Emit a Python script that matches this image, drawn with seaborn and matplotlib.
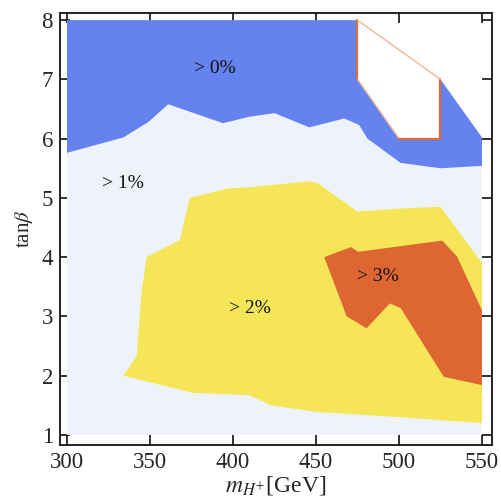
import matplotlib
matplotlib.use("Agg")
import matplotlib.pyplot as plt
import seaborn as sns

# Contour boundaries in (m_H+ [GeV], tan beta)
blue_lower_x = [300, 334, 349, 361, 394, 410, 425, 446, 467, 476, 481, 501, 525, 550]
blue_lower_y = [5.76, 6.02, 6.28, 6.58, 6.26, 6.37, 6.43, 6.19, 6.34, 6.23, 6.0, 5.59, 5.5, 5.54]

# excluded region (no data) in the upper right corner
hole_x = [475, 475, 500, 525, 525]
hole_y = [8.0, 7.0, 6.0, 6.0, 7.0]
edge_x = [550, 550]
edge_y = [6.02, 8.0]

yellow_x = [334, 342, 345, 348, 368, 374, 397, 410, 446, 451, 475, 500, 525, 550,
            550, 500, 450, 423, 410, 376]
yellow_y = [2.0, 2.33, 3.42, 4.0, 4.29, 5.0, 5.16, 5.18, 5.28, 5.25, 4.77, 4.82, 4.85, 3.9,
            1.2, 1.3, 1.39, 1.5, 1.67, 1.71]

orange_x = [455, 471, 475.5, 526, 535, 550, 550, 527, 501, 494.5, 480.5, 468.5]
orange_y = [4.0, 4.17, 4.09, 4.28, 4.01, 3.1, 1.84, 1.98, 3.14, 3.22, 2.8, 3.0]

region_labels = ["> 0%", "> 1%", "> 2%", "> 3%"]
label_x = [389, 334, 410, 487]
label_y = [7.19, 5.25, 3.14, 3.67]

x_ticks = [300, 350, 400, 450, 500, 550]
y_ticks = [1, 2, 3, 4, 5, 6, 7, 8]
x_min, x_max, y_min, y_max = 300, 550, 1, 8

sns.set_theme(style="ticks")
plt.rcParams["font.family"] = ["Liberation Serif", "DejaVu Serif"]
plt.rcParams["mathtext.fontset"] = "stix"

BLUE = "#6582EE"
LIGHT = "#EEF3FA"
YELLOW = "#F6E657"
ORANGE = "#DD6633"

fig = plt.figure(figsize=(5.02, 5.01), dpi=100)
ax = fig.add_axes([0.1195, 0.1118, 0.8605, 0.8622])

# >1% band: everything below the blue boundary
light_x = [x_min, x_max] + blue_lower_x[::-1]
light_y = [y_min, y_min] + blue_lower_y[::-1]
ax.fill(light_x, light_y, color=LIGHT, lw=0, zorder=1)

# >0% band: above the boundary, around the excluded hole
bx = blue_lower_x + [edge_x[0], hole_x[4], hole_x[3], hole_x[2], hole_x[1], hole_x[0], x_min]
by = blue_lower_y + [edge_y[0], hole_y[4], hole_y[3], hole_y[2], hole_y[1], hole_y[0], y_max]
ax.fill(bx, by, color=BLUE, lw=0, zorder=1)

ax.fill(yellow_x, yellow_y, color=YELLOW, lw=0, zorder=2)
ax.fill(orange_x, orange_y, color=ORANGE, lw=0, zorder=3)

# outline of the excluded hole
hx = hole_x + [hole_x[0]]
hy = hole_y + [hole_y[0]]
for i in range(len(hole_x)):
    diag = hx[i] != hx[i + 1] and hy[i] != hy[i + 1]
    ax.plot(hx[i:i + 2], hy[i:i + 2],
            color="#EDB694" if diag else "#E06A3A",
            lw=1.0 if diag else 1.6, zorder=4, solid_capstyle="round")

for t, x, y in zip(region_labels, label_x, label_y):
    ax.text(x, y, t, ha="center", va="center", fontsize=14, color="#111111", zorder=5)

ax.set_xlim(295.8, 556)
ax.set_ylim(0.83, 8.12)
ax.set_xticks(x_ticks)
ax.set_yticks(y_ticks)
ax.tick_params(direction="in", length=7, width=1.2, labelsize=16.5,
               top=True, right=True, color="#111111", pad=5)
for s in ax.spines.values():
    s.set_linewidth(1.3)
    s.set_color("#111111")

ax.set_xlabel(r"$m_{H^{+}}$[GeV]", fontsize=17, labelpad=1)
ax.set_ylabel(r"tan$\beta$", fontsize=15, labelpad=5)

fig.savefig("out.png", dpi=100, facecolor="white")
